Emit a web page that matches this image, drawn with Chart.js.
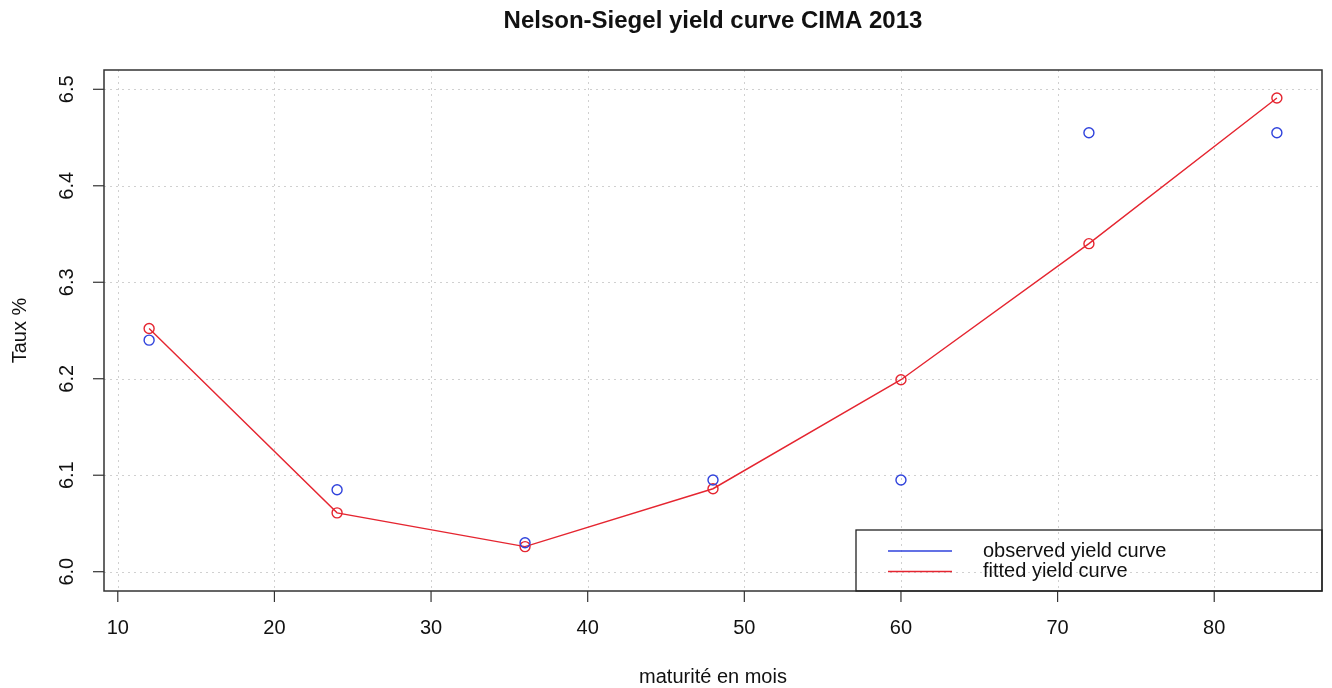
<!DOCTYPE html>
<html lang="fr">
<head>
    <meta charset="UTF-8">
    <title>Nelson-Siegel yield curve CIMA 2013</title>
    <script src="https://cdn.jsdelivr.net/npm/chart.js"></script>
    <style>
        body { margin: 0; background: #fff; }
    </style>
</head>
<body>
    <canvas id="myChart" width="1332" height="688"></canvas>

    <script>
        // maturités (mois) et taux
        const maturites = [12, 24, 36, 48, 60, 72, 84];
        const tauxObserves = [6.240, 6.085, 6.030, 6.095, 6.095, 6.455, 6.455];
        const tauxAjustes = [6.252, 6.061, 6.026, 6.086, 6.199, 6.340, 6.491];

        const xTicks = [10, 20, 30, 40, 50, 60, 70, 80];
        const yTicks = [6.0, 6.1, 6.2, 6.3, 6.4, 6.5];
        const yTickLabels = ['6.0', '6.1', '6.2', '6.3', '6.4', '6.5'];
        const legendLabels = ['observed yield curve', 'fitted yield curve'];

        const bleu = '#2f42dc';
        const rouge = '#e52530';
        const police = '"Liberation Sans", Arial, Helvetica, sans-serif';

        // dessine les axes a la maniere de R (boite, graduations, grille pointillee)
        const axesR = {
            id: 'axesR',
            beforeDatasetsDraw(chart) {
                const ctx = chart.ctx;
                const a = chart.chartArea;
                const sx = chart.scales.x, sy = chart.scales.y;
                ctx.save();
                ctx.strokeStyle = '#d0d0d0';
                ctx.lineWidth = 1;
                ctx.setLineDash([2, 4]);
                xTicks.forEach(function(v) {
                    const px = Math.round(sx.getPixelForValue(v)) + 0.5;
                    ctx.beginPath();
                    ctx.moveTo(px, a.top);
                    ctx.lineTo(px, a.bottom);
                    ctx.stroke();
                });
                yTicks.forEach(function(v) {
                    const py = Math.round(sy.getPixelForValue(v)) + 0.5;
                    ctx.beginPath();
                    ctx.moveTo(a.left, py);
                    ctx.lineTo(a.right, py);
                    ctx.stroke();
                });
                ctx.restore();
            },
            afterDraw(chart) {
                const ctx = chart.ctx;
                const a = chart.chartArea;
                const sx = chart.scales.x, sy = chart.scales.y;
                ctx.save();
                ctx.setLineDash([]);
                ctx.strokeStyle = '#333';
                ctx.lineWidth = 1.5;
                ctx.strokeRect(a.left, a.top, a.right - a.left, a.bottom - a.top);

                ctx.fillStyle = '#111';
                ctx.font = '20px ' + police;
                ctx.lineWidth = 1.2;

                // axe x
                ctx.textAlign = 'center';
                ctx.textBaseline = 'middle';
                xTicks.forEach(function(v) {
                    const px = sx.getPixelForValue(v);
                    ctx.beginPath();
                    ctx.moveTo(px, a.bottom);
                    ctx.lineTo(px, a.bottom + 11);
                    ctx.stroke();
                    ctx.fillText(String(v), px, 628);
                });

                // axe y (etiquettes verticales)
                yTicks.forEach(function(v, i) {
                    const py = sy.getPixelForValue(v);
                    ctx.beginPath();
                    ctx.moveTo(a.left, py);
                    ctx.lineTo(a.left - 11, py);
                    ctx.stroke();
                    ctx.save();
                    ctx.translate(67, py);
                    ctx.rotate(-Math.PI / 2);
                    ctx.fillText(yTickLabels[i], 0, 0);
                    ctx.restore();
                });

                // titres
                const cx = (a.left + a.right) / 2;
                ctx.fillText('maturité en mois', cx, 677);
                ctx.save();
                ctx.translate(20, (a.top + a.bottom) / 2);
                ctx.rotate(-Math.PI / 2);
                ctx.fillText('Taux %', 0, 0);
                ctx.restore();

                ctx.font = 'bold 24px ' + police;
                ctx.fillText('Nelson-Siegel yield curve CIMA 2013', cx, 21);

                // legende
                ctx.strokeStyle = '#222';
                ctx.lineWidth = 1.3;
                ctx.strokeRect(856, 530, a.right - 856, a.bottom - 530);
                ctx.font = '20px ' + police;
                ctx.textAlign = 'left';
                [bleu, rouge].forEach(function(c, i) {
                    const ly = 551 + i * 20.5;
                    ctx.strokeStyle = c;
                    ctx.lineWidth = 1.5;
                    ctx.beginPath();
                    ctx.moveTo(888, ly);
                    ctx.lineTo(952, ly);
                    ctx.stroke();
                    ctx.fillStyle = '#111';
                    ctx.fillText(legendLabels[i], 983, ly);
                });
                ctx.restore();
            }
        };

        const ctx = document.getElementById('myChart').getContext('2d');
        const myChart = new Chart(ctx, {
            type: 'scatter',
            data: {
                datasets: [{
                    label: legendLabels[0],
                    data: maturites.map(function(m, i) { return {x: m, y: tauxObserves[i]}; }),
                    showLine: false,
                    borderColor: bleu,
                    backgroundColor: 'rgba(0,0,0,0)',
                    pointRadius: 5,
                    pointBorderWidth: 1.4
                }, {
                    label: legendLabels[1],
                    data: maturites.map(function(m, i) { return {x: m, y: tauxAjustes[i]}; }),
                    showLine: true,
                    tension: 0,
                    borderColor: rouge,
                    borderWidth: 1.4,
                    backgroundColor: 'rgba(0,0,0,0)',
                    pointRadius: 5,
                    pointBorderWidth: 1.4
                }]
            },
            options: {
                responsive: false,
                animation: false,
                devicePixelRatio: 1,
                layout: { padding: { left: 104, right: 10, top: 70, bottom: 97 } },
                plugins: {
                    legend: { display: false },
                    tooltip: { enabled: false }
                },
                scales: {
                    x: { type: 'linear', min: 9.12, max: 86.88, display: false },
                    y: { type: 'linear', min: 5.98, max: 6.52, display: false }
                }
            },
            plugins: [axesR]
        });
    </script>
</body>
</html>
